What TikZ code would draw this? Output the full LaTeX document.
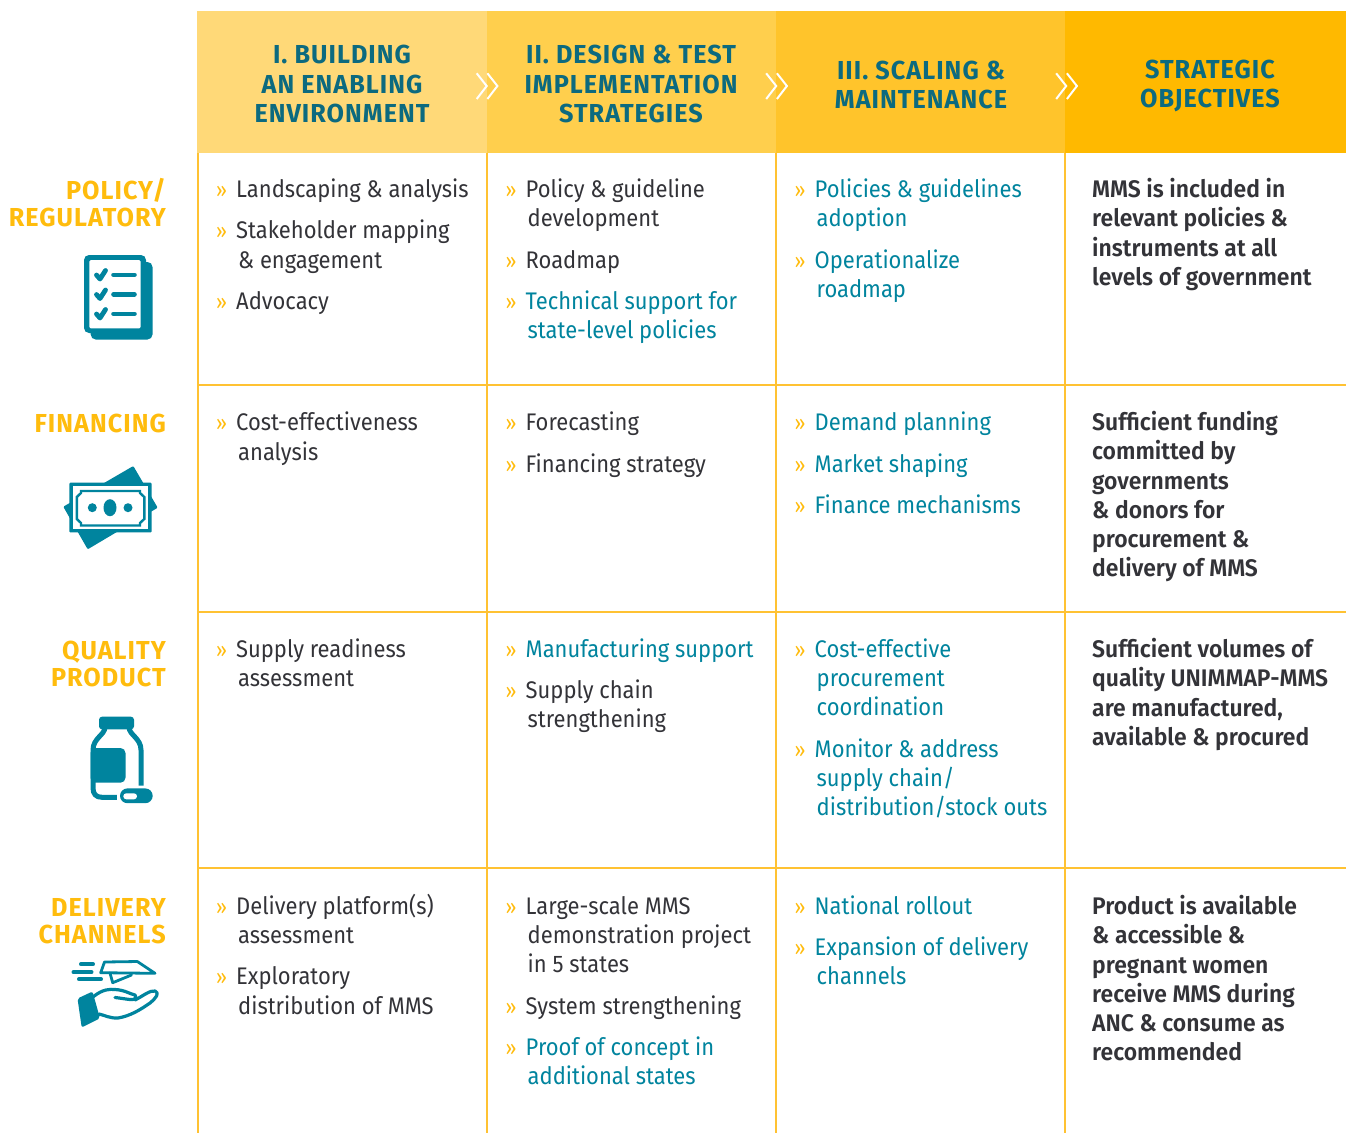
\documentclass[tikz,border=0pt]{standalone}
\usepackage{fontspec}
\setmainfont{Fira Sans}[FakeStretch=0.915]
\newfontfamily\hdfont{Fira Sans}[LetterSpace=4,FakeStretch=0.97]
\newfontfamily\objfont{Fira Sans SemiBold}[FakeStretch=0.955]
\usetikzlibrary{calc}
\definecolor{hA}{HTML}{FFD978}
\definecolor{hB}{HTML}{FFCF4D}
\definecolor{hC}{HTML}{FFC42B}
\definecolor{hD}{HTML}{FFB900}
\definecolor{grid}{HTML}{FFC233}
\definecolor{gold}{HTML}{FFBC0D}
\definecolor{teal}{HTML}{00849E}
\definecolor{hdteal}{HTML}{0C6A7F}
\definecolor{ink}{HTML}{333338}
\tikzset{
  x=1pt,y=-1pt,
  gridline/.style={grid,line width=1.6pt},
  hdtext/.style={font=\fontsize{26}{29.5}\selectfont\hdfont\bfseries,text=hdteal,align=center,inner sep=0pt,anchor=center},
  rowlabel/.style={font=\fontsize{26}{27}\selectfont\hdfont\bfseries,text=gold,align=right,inner sep=0pt,anchor=north east},
  bul/.style={font=\fontsize{21}{21}\selectfont,text=gold,inner sep=0pt,anchor=base west},
  itext/.style={font=\fontsize{24}{29.2}\selectfont,align=left,inner sep=0pt,anchor=north west},
  objtext/.style={font=\fontsize{24}{29.3}\selectfont\objfont,text=ink,align=left,inner sep=0pt,anchor=north west},
  chev/.style={white,line width=2pt,miter limit=10},
  icl/.style={teal,line cap=round,line join=round},
}
% #1 name, #2 x of the bullet, #3 centre y of first line, #4 colour, #5 text
\newcommand\itm[5]{%
  \node[bul] (#1b) at (#2,#3+8) {»};
  \node[itext,text=#4] (#1) at (#2+20,#3+8-22) {\rule{0pt}{22pt}#5};
}
\newcommand\nl{\\\hspace*{2pt}}
\newcommand\nlw{\\[1pt]\hspace*{2pt}}
\newcommand\chv[1]{%
  \begin{scope}[xshift=#1pt]
  \draw[chev] (476.7,73.3) -- (486.7,86) -- (476.7,99);
  \draw[chev] (487.4,73.3) -- (497.4,86) -- (487.4,99);
  \end{scope}}
\begin{document}
\begin{tikzpicture}
\useasboundingbox (0,0) rectangle (1346,1133);
\fill[white] (0,0) rectangle (1346,1133);
% headers
\fill[hA] (197,11) rectangle (487,153);
\fill[hB] (487,11) rectangle (776,153);
\fill[hC] (776,11) rectangle (1065,153);
\fill[hD] (1065,11) rectangle (1346,153);
% grid
\foreach \gx in {198,487,776,1065} \draw[gridline] (\gx,153) -- (\gx,1133);
\foreach \gy in {385,612,868} \draw[gridline] (197.4,\gy) -- (1346,\gy);
\chv{0}\chv{289.5}\chv{579.5}
\node[hdtext] (h1) at (342,84) {I. BUILDING\\AN ENABLING\\ENVIRONMENT};
\node[hdtext] (h2) at (631,84) {II. DESIGN \& TEST\\IMPLEMENTATION\\STRATEGIES};
\node[hdtext] (h3) at (921,85) {III. SCALING \&\\MAINTENANCE};
\node[hdtext] (h4) at (1210,86) {STRATEGIC\\OBJECTIVES};
% row labels
\node[rowlabel] (r1) at (166,178.5) {POLICY/\\REGULATORY};
\node[rowlabel] (r2) at (166,414) {FINANCING};
\node[rowlabel] (r3) at (166,641) {QUALITY\\PRODUCT};
\node[rowlabel] (r4) at (166,898) {DELIVERY\\CHANNELS};
% row 1
\itm{a}{216}{189}{ink}{Landscaping \& analysis}
\itm{b}{216}{230}{ink}{Stakeholder mapping\nlw\& engagement}
\itm{c}{216}{301}{ink}{Advocacy}
\itm{d}{505.5}{189}{ink}{Policy \& guideline\nl development}
\itm{e}{505.5}{260}{ink}{Roadmap}
\itm{f}{505.5}{301}{teal}{Technical support for\nl state-level policies}
\itm{g}{794.5}{189}{teal}{Policies \& guidelines\nl adoption}
\itm{h}{794.5}{260}{teal}{Operationalize\nl roadmap}
\node[objtext] (o1) at (1092,178) {MMS is included in\\relevant policies \&\\instruments at all\\levels of government};
% row 2
\itm{i}{216}{422}{ink}{Cost-effectiveness\nlw analysis}
\itm{j}{505.5}{422}{ink}{Forecasting}
\itm{k}{505.5}{464}{ink}{Financing strategy}
\itm{l}{794.5}{422}{teal}{Demand planning}
\itm{m}{794.5}{464}{teal}{Market shaping}
\itm{n}{794.5}{505}{teal}{Finance mechanisms}
\node[objtext] (o2) at (1092,411) {Sufficient funding\\committed by\\governments\\\& donors for\\procurement \&\\delivery of MMS};
% row 3
\itm{p}{216}{649}{ink}{Supply readiness\nl assessment}
\itm{q}{505.5}{649}{teal}{Manufacturing support}
\itm{r}{505.5}{690}{ink}{Supply chain\nl strengthening}
\itm{s}{794.5}{649}{teal}{Cost-effective\nl procurement\nl coordination}
\itm{t}{794.5}{749}{teal}{Monitor \& address\nl supply chain/\nl distribution/stock outs}
\node[objtext] (o3) at (1092,638) {Sufficient volumes of\\quality UNIMMAP-MMS\\are manufactured,\\available \& procured};
% row 4
\itm{u}{216}{906}{ink}{Delivery platform(s)\nl assessment}
\itm{v}{216}{976}{ink}{Exploratory\nlw distribution of MMS}
\itm{w}{505.5}{906}{ink}{Large-scale MMS\nl demonstration project\nl in 5 states}
\itm{y}{505.5}{1006}{ink}{System strengthening}
\itm{z}{505.5}{1047}{teal}{Proof of concept in\nl additional states}
\itm{aa}{794.5}{906}{teal}{National rollout}
\itm{ab}{794.5}{947}{teal}{Expansion of delivery\nl channels}
\node[objtext] (o4) at (1092,895) {Product is available\\\& accessible \&\\pregnant women\\receive MMS during\\ANC \& consume as\\recommended};
% --- checklist icon
\fill[teal,rounded corners=5pt] (90.7,262) rectangle (152.5,339.5);
\fill[teal,rounded corners=5pt] (84,255) rectangle (146,333);
\fill[white,rounded corners=1.5pt] (89.3,260) rectangle (140.7,328.3);
\foreach \dy in {0,19.5,39} {
  \draw[icl,line width=4.8pt] (96.5,275+\dy) -- (100,279+\dy) -- (105.5,270.5+\dy);
  \draw[icl,line width=4.6pt] (113.5,274.8+\dy) -- (134.5,274.8+\dy);
}
% --- money icon
\fill[teal,rounded corners=1pt] (133.3,466) -- (157.7,507.7) -- (87.7,549.3) -- (63.3,506.7) -- cycle;
\fill[teal,rounded corners=1pt] (69.3,482.7) rectangle (151.7,532.3);
\fill[white] (72.7,486) rectangle (148.3,529);
\draw[teal,line width=2.4pt] (81,491) -- (140,491) -- (140,493) -- (144.3,497) -- (144.3,519) -- (140,523) -- (140,525.5) -- (81,525.5) -- (81,523) -- (76.8,519) -- (76.8,497) -- (81,493) -- cycle;
\fill[teal] (92.3,507.7) circle[radius=4.5pt];
\fill[teal] (128,507.7) circle[radius=4.5pt];
\fill[teal] (110,507.7) ellipse[x radius=6.5pt,y radius=8.5pt];
% --- bottle icon
\draw[teal,line width=5pt,line join=round] (105,727) .. controls (105,735) and (93,738) .. (93,750) -- (93,788) .. controls (93,794) and (96,797.3) .. (102,797.3) -- (132,797.3) .. controls (138,797.3) and (141,794) .. (141,788) -- (141,750) .. controls (141,738) and (129,735) .. (129,727);
\fill[teal,rounded corners=3pt] (99,716.7) rectangle (134,729.3);
\fill[teal,rounded corners=5pt] (90.5,748) rectangle (125.5,782.7);
\fill[white,rounded corners=7pt] (117,785.5) rectangle (155,806);
\fill[teal,rounded corners=7.4pt] (120,788.4) rectangle (152.7,803.2);
\fill[white,rounded corners=3pt] (123.3,793.3) rectangle (137,799.3);
% --- delivery icon
\draw[icl,line width=4pt] (81,964.3) -- (93,964.3);
\draw[icl,line width=4pt] (73.5,972.3) -- (91.5,972.3);
\draw[icl,line width=4pt] (79,979.3) -- (101,979.3);
\draw[icl,line width=2.8pt] (104.5,962) -- (137.3,961.5) -- (155,973.3) -- (100.7,972.7) -- cycle;
\draw[icl,line width=2.8pt] (110,973) -- (112.7,982.7) -- (131.5,975);
\fill[teal,rounded corners=2pt] (77.5,998.5) -- (92.5,991.5) -- (100,1018.3) -- (81.7,1027.5) -- cycle;
\draw[icl,line width=3.2pt] (93.5,996.5) .. controls (103,989) and (110,989) .. (115,989.5) .. controls (125,990) and (130,994) .. (135,995) .. controls (137,998) and (135,1000) .. (130,999.5) .. controls (125,999) and (120,998) .. (115,997.5);
\draw[icl,line width=3.2pt] (135,1000) .. controls (143,996) and (150,990) .. (155,991) .. controls (160,993) and (156,998) .. (150,1003) .. controls (140,1010) and (130,1016) .. (118,1018) .. controls (110,1018.5) and (104,1015) .. (99,1014);
\end{tikzpicture}
\end{document}
